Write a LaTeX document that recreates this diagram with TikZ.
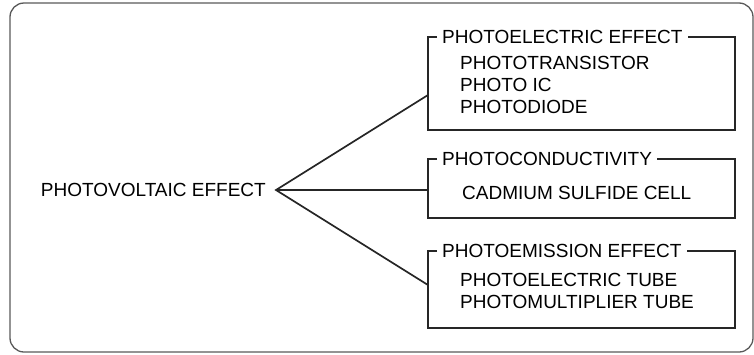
\documentclass[tikz,border=0pt]{standalone}
\usepackage{fontspec}
\setmainfont{Liberation Sans}
\begin{document}
\begin{tikzpicture}[x=1pt,y=-1pt,
  lbl/.style={inner sep=0pt, anchor=west, font=\fontsize{19}{22}\selectfont, text=black},
  ttl/.style={inner ysep=0pt, inner xsep=5pt, anchor=west, font=\fontsize{19}{22}\selectfont, text=black},
  boxline/.style={line width=1.9pt, draw=black!85, line join=miter},
  conn/.style={line width=1.7pt, draw=black!85},
  frame/.style={line width=1.3pt, draw=black!65, rounded corners=14pt}]
\useasboundingbox (0,0) rectangle (754,354);
\draw[frame] (10,3) rectangle (753,352);

% root
\node[lbl, anchor=east] (root) at (266,190) {PHOTOVOLTAIC EFFECT};
\coordinate (apex) at (276,190);

% box 1
\coordinate (b1nw) at (428,37);
\coordinate (b1sw) at (428,130);
\coordinate (b1se) at (735,130);
\coordinate (b1ne) at (735,37);
\coordinate (b1in) at (428,95);
\node[ttl] (t1) at (437,37) {PHOTOELECTRIC EFFECT};
\draw[boxline] (t1.west) -- (b1nw) -- (b1sw) -- (b1se) -- (b1ne) -- (t1.east);
\node[lbl] (i11) at (460,63) {PHOTOTRANSISTOR};
\node[lbl] (i12) at (460,85) {PHOTO IC};
\node[lbl] (i13) at (460,107) {PHOTODIODE};

% box 2
\coordinate (b2nw) at (428,159);
\coordinate (b2sw) at (428,218);
\coordinate (b2se) at (735,218);
\coordinate (b2ne) at (735,159);
\coordinate (b2in) at (428,190);
\node[ttl] (t2) at (437,159) {PHOTOCONDUCTIVITY};
\draw[boxline] (t2.west) -- (b2nw) -- (b2sw) -- (b2se) -- (b2ne) -- (t2.east);
\node[lbl] (i21) at (462,193) {CADMIUM SULFIDE CELL};

% box 3
\coordinate (b3nw) at (428,251);
\coordinate (b3sw) at (428,328);
\coordinate (b3se) at (735,328);
\coordinate (b3ne) at (735,251);
\coordinate (b3in) at (428,285);
\node[ttl] (t3) at (437,251) {PHOTOEMISSION EFFECT};
\draw[boxline] (t3.west) -- (b3nw) -- (b3sw) -- (b3se) -- (b3ne) -- (t3.east);
\node[lbl] (i31) at (460,280) {PHOTOELECTRIC TUBE};
\node[lbl] (i32) at (460,302) {PHOTOMULTIPLIER TUBE};

% connectors
\draw[conn] (b1in) -- (apex) -- (b3in);
\draw[conn] (apex) -- (b2in);
\end{tikzpicture}
\end{document}
